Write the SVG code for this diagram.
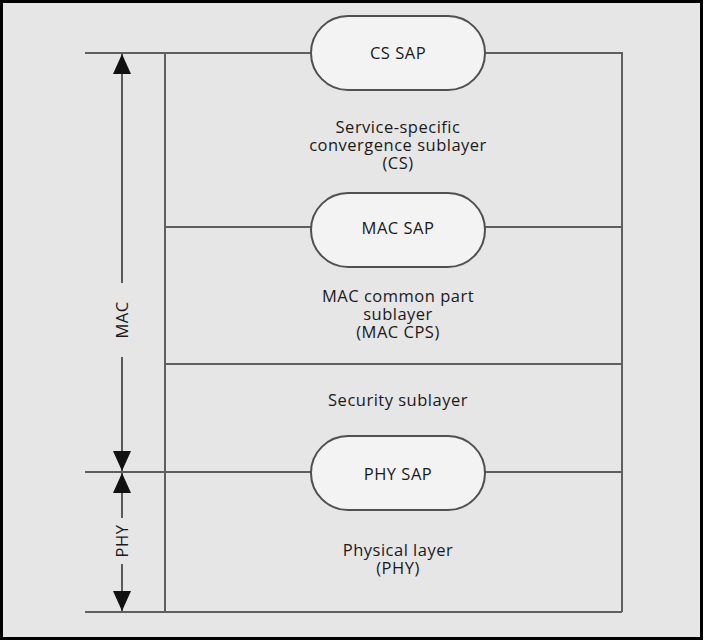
<svg xmlns="http://www.w3.org/2000/svg" width="704" height="641" viewBox="0 0 704 641">
  <style>
    .ln { stroke: #5f5f5f; stroke-width: 2; fill: none; }
    .dim { stroke: #5a5a5a; stroke-width: 2; fill: none; }
    .sap { fill: #f3f3f3; stroke: #505050; stroke-width: 2; }
    .t { font-family: "Open Sans", "Liberation Sans", sans-serif; font-size: 16.5px; letter-spacing: 0.5px; fill: #1a1a1a; text-anchor: middle; }
  </style>
  <defs>
    <marker id="ah" viewBox="0 0 20 18" markerWidth="20" markerHeight="18" refX="20" refY="9" orient="auto" markerUnits="userSpaceOnUse">
      <path d="M0,0 L20,9 L0,18 Z" fill="#111"/>
    </marker>
  </defs>

  <!-- frame -->
  <rect x="1.5" y="1.5" width="700" height="637" fill="#e6e6e6" stroke="#000" stroke-width="3"/>

  <!-- layer boundaries and dimension arrows -->
  <g id="connectors">
    <line class="ln" x1="85" y1="53" x2="311" y2="53"/>
    <polyline class="ln" points="485,53 622,53 622,612"/>
    <line class="ln" x1="165" y1="53" x2="165" y2="612"/>
    <line class="ln" x1="165" y1="227" x2="311" y2="227"/>
    <line class="ln" x1="485" y1="227" x2="622" y2="227"/>
    <line class="ln" x1="165" y1="364" x2="622" y2="364"/>
    <line class="ln" x1="85" y1="472" x2="311" y2="472"/>
    <line class="ln" x1="485" y1="472" x2="622" y2="472"/>
    <line class="ln" x1="85" y1="612" x2="622" y2="612"/>

    <line class="dim" x1="122" y1="283" x2="122" y2="54" marker-end="url(#ah)"/>
    <line class="dim" x1="122" y1="357" x2="122" y2="471" marker-end="url(#ah)"/>
    <line class="dim" x1="122" y1="518" x2="122" y2="473" marker-end="url(#ah)"/>
    <line class="dim" x1="122" y1="564" x2="122" y2="611" marker-end="url(#ah)"/>
  </g>

  <g id="mac-label">
    <text class="t" transform="translate(128,320) rotate(-90)">MAC</text>
  </g>
  <g id="phy-label">
    <text class="t" transform="translate(128,541) rotate(-90)">PHY</text>
  </g>

  <g id="cs-sap">
    <rect class="sap" x="311" y="16" width="174" height="74" rx="37" ry="37"/>
    <text class="t" x="398" y="59">CS SAP</text>
  </g>

  <g id="cs-sublayer">
    <text class="t" x="398" y="133">Service-specific</text>
    <text class="t" x="398" y="151">convergence sublayer</text>
    <text class="t" x="398" y="169">(CS)</text>
  </g>

  <g id="mac-sap">
    <rect class="sap" x="311" y="193" width="174" height="74" rx="37" ry="37"/>
    <text class="t" x="398" y="234">MAC SAP</text>
  </g>

  <g id="mac-cps">
    <text class="t" x="398" y="302">MAC common part</text>
    <text class="t" x="398" y="320">sublayer</text>
    <text class="t" x="398" y="338">(MAC CPS)</text>
  </g>

  <g id="security-sublayer">
    <text class="t" x="398" y="406">Security sublayer</text>
  </g>

  <g id="phy-sap">
    <rect class="sap" x="311" y="436" width="174" height="74" rx="37" ry="37"/>
    <text class="t" x="398" y="480">PHY SAP</text>
  </g>

  <g id="physical-layer">
    <text class="t" x="398" y="556">Physical layer</text>
    <text class="t" x="398" y="574">(PHY)</text>
  </g>
</svg>
